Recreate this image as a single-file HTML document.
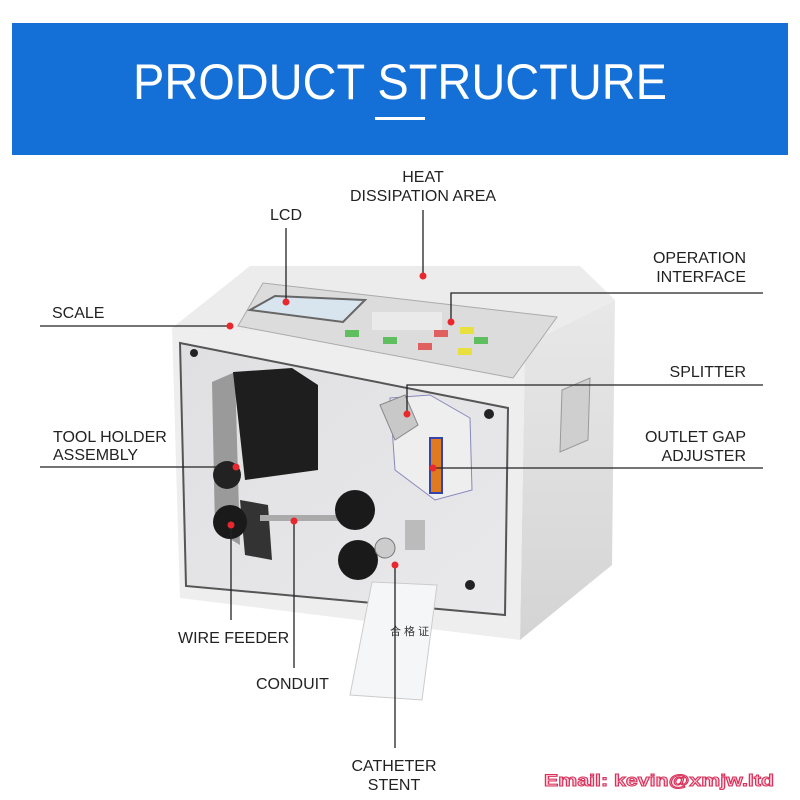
<!DOCTYPE html>
<html><head><meta charset="utf-8"><style>
html,body{margin:0;padding:0;background:#fff;width:800px;height:800px;overflow:hidden}
svg{display:block}
text{font-family:"Liberation Sans",sans-serif}
</style></head><body>
<svg width="800" height="800" viewBox="0 0 800 800" xmlns="http://www.w3.org/2000/svg">
<defs>
<linearGradient id="rs" x1="0" y1="0" x2="0" y2="1"><stop offset="0" stop-color="#e8e8e8"/><stop offset="1" stop-color="#d4d4d4"/></linearGradient>
<linearGradient id="fp" x1="0" y1="0" x2="1" y2="1"><stop offset="0" stop-color="#e0e0e2"/><stop offset="1" stop-color="#e9e9eb"/></linearGradient>
</defs>
<rect width="800" height="800" fill="#fff"/>
<rect x="12" y="23" width="776" height="132" fill="#1470d6"/>
<text x="400" y="99" fill="#fff" font-size="50" text-anchor="middle" textLength="534" lengthAdjust="spacingAndGlyphs">PRODUCT STRUCTURE</text>
<rect x="375" y="117" width="50" height="3" fill="#fff"/>

<!-- machine -->
<polygon points="525,345 615,300 612,565 520,640" fill="url(#rs)"/>
<polygon points="172,328 250,266 580,266 615,300 525,345" fill="#ececec"/>
<polygon points="172,328 525,345 520,640 180,598" fill="#eeeeee"/>
<polygon points="180,343 508,408 505,615 186,586" fill="url(#fp)" stroke="#555" stroke-width="2"/>
<polygon points="562,390 590,378 588,440 560,452" fill="#cfcfcf" stroke="#999"/>
<!-- control panel -->
<polygon points="238,326 263,283 557,317 513,378" fill="#dcdcdc" stroke="#aaa"/>
<polygon points="250,310 275,296 365,300 343,322" fill="#d8e4ee" stroke="#666" stroke-width="2"/>
<g stroke="none">
<rect x="345" y="330" width="14" height="7" fill="#5fbf5f"/>
<rect x="383" y="337" width="14" height="7" fill="#5fbf5f"/>
<rect x="418" y="343" width="14" height="7" fill="#e06060"/>
<rect x="434" y="330" width="14" height="7" fill="#e06060"/>
<rect x="460" y="327" width="14" height="7" fill="#e8e040"/>
<rect x="474" y="337" width="14" height="7" fill="#5fbf5f"/>
<rect x="458" y="348" width="14" height="7" fill="#e8e040"/>
<rect x="372" y="312" width="70" height="18" fill="#eaeaea"/>
</g>
<!-- outlet gap plate -->
<polygon points="390,398 430,395 470,418 472,490 435,500 395,470" fill="#eee" stroke="#8888bb"/>
<rect x="430" y="438" width="12" height="55" fill="#e07a20" stroke="#3344aa" stroke-width="2"/>
<polygon points="380,405 405,395 418,425 395,440" fill="#c8c8c8" stroke="#888"/>
<!-- tool holder -->
<polygon points="212,382 235,372 240,545 215,530" fill="#9a9a9a"/>
<polygon points="233,372 292,368 318,385 318,470 245,480" fill="#1e1e1e"/>
<polygon points="240,500 268,505 272,560 245,555" fill="#333"/>
<circle cx="227" cy="475" r="14" fill="#222"/>
<circle cx="230" cy="522" r="17" fill="#1a1a1a"/>
<rect x="260" y="515" width="100" height="6" fill="#aaa"/>
<circle cx="355" cy="510" r="20" fill="#1a1a1a"/>
<circle cx="358" cy="560" r="20" fill="#1a1a1a"/>
<circle cx="385" cy="548" r="10" fill="#ccc" stroke="#777"/>
<rect x="405" y="520" width="20" height="30" fill="#bbb"/>
<circle cx="470" cy="585" r="5" fill="#222"/>
<circle cx="489" cy="414" r="5" fill="#222"/>
<circle cx="194" cy="353" r="4" fill="#222"/>
<!-- tag -->
<polygon points="372,582 437,585 422,700 350,695" fill="#f4f6f8" stroke="#ccc"/>
<text x="390" y="635" font-size="11" fill="#333" font-family="Noto Serif CJK SC,serif">合 格 证</text>

<!-- leader lines -->
<g stroke="#222" stroke-width="1.3" fill="none">
<path d="M423,210 V276"/>
<path d="M286,228 V302"/>
<path d="M763,293 H451 V322"/>
<path d="M40,326 H230"/>
<path d="M763,385 H407 V414"/>
<path d="M40,467 H236"/>
<path d="M763,468 H433"/>
<path d="M231,525 V620"/>
<path d="M294,521 V668"/>
<path d="M395,565 V748"/>
</g>
<g fill="#e8282e">
<circle cx="423" cy="276" r="3.5"/><circle cx="286" cy="302" r="3.5"/>
<circle cx="451" cy="322" r="3.5"/><circle cx="230" cy="326" r="3.5"/>
<circle cx="407" cy="414" r="3.5"/><circle cx="236" cy="467" r="3.5"/>
<circle cx="433" cy="468" r="3.5"/><circle cx="231" cy="525" r="3.5"/>
<circle cx="294" cy="521" r="3.5"/><circle cx="395" cy="565" r="3.5"/>
</g>

<g font-size="16" fill="#222">
<text x="423" y="182" text-anchor="middle">HEAT</text>
<text x="423" y="201" text-anchor="middle">DISSIPATION AREA</text>
<text x="286" y="220" text-anchor="middle">LCD</text>
<text x="746" y="263" text-anchor="end">OPERATION</text>
<text x="746" y="282" text-anchor="end">INTERFACE</text>
<text x="52" y="318">SCALE</text>
<text x="746" y="377" text-anchor="end">SPLITTER</text>
<text x="53" y="442">TOOL HOLDER</text>
<text x="53" y="460">ASSEMBLY</text>
<text x="746" y="442" text-anchor="end">OUTLET GAP</text>
<text x="746" y="461" text-anchor="end">ADJUSTER</text>
<text x="178" y="643">WIRE FEEDER</text>
<text x="256" y="689">CONDUIT</text>
<text x="394" y="771" text-anchor="middle">CATHETER</text>
<text x="394" y="790" text-anchor="middle">STENT</text>
</g>
<text x="544" y="786" font-size="17" font-weight="bold" fill="#fbd0da" stroke="#d8305a" stroke-width="1" textLength="230" lengthAdjust="spacingAndGlyphs">Email: kevin@xmjw.ltd</text>
</svg>
</body></html>
